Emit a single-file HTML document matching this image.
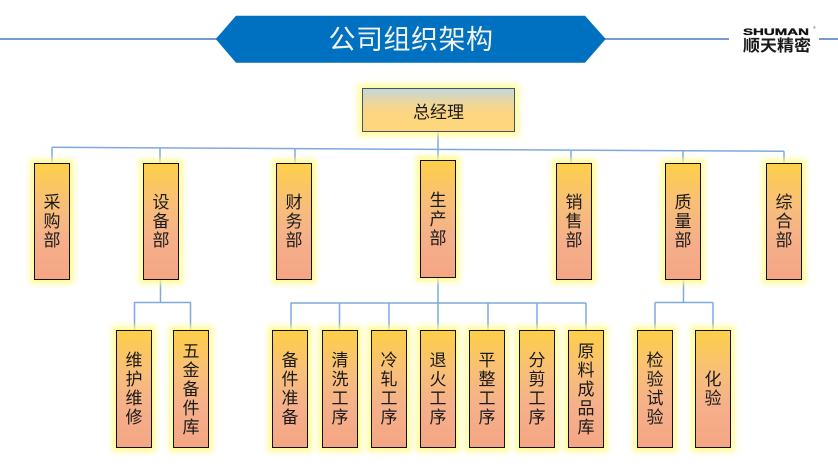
<!DOCTYPE html>
<html>
<head>
<meta charset="utf-8">
<style>
  html,body{margin:0;padding:0;}
  body{width:838px;height:472px;position:relative;overflow:hidden;background:#fff;
    font-family:"Liberation Sans","Noto Sans CJK SC",sans-serif;}
  svg.bg{position:absolute;left:0;top:0;}
  .b{position:absolute;width:36px;height:117px;box-sizing:border-box;border:1.5px solid #111;
    background:linear-gradient(to bottom,#fecf48 0%,#f8bf78 35%,#f5b08a 65%,#f5a684 100%);
    box-shadow:0 0 5px 4px rgba(255,250,140,0.85);
    display:flex;flex-direction:column;align-items:center;justify-content:center;
    font-family:"Liberation Sans","Noto Sans CJK SC",sans-serif;font-size:17px;line-height:19px;color:#1a1a1a;}
  .b span{display:block;}
  .lo{top:330px;height:118px;}
  .gm{position:absolute;left:362px;top:88px;width:153px;height:44px;box-sizing:border-box;
    border:1.5px solid #44546a;
    background:linear-gradient(to bottom,#c4d7da 0%,#e8d6a0 30%,#fbd583 55%,#ffd679 100%);
    box-shadow:0 0 6px 4px rgba(255,250,140,0.85);
    display:flex;align-items:center;justify-content:center;font-size:17px;color:#1a1a1a;
    font-family:"Liberation Sans","Noto Sans CJK SC",sans-serif;}
</style>
</head>
<body>
<svg class="bg" width="838" height="472" viewBox="0 0 838 472">
  <!-- header lines -->
  <line x1="0" y1="39" x2="217" y2="39" stroke="#4a78c4" stroke-width="1.5"/>
  <line x1="604" y1="39" x2="729" y2="39" stroke="#4a78c4" stroke-width="1.5"/>
  <line x1="819" y1="39" x2="838" y2="39" stroke="#4a78c4" stroke-width="1.5"/>
  <polygon points="215.7,39 236,15.7 585,15.7 605.7,39 585,62.7 236,62.7" fill="#0070c0"/>
  <text x="411" y="40" text-anchor="middle" dominant-baseline="central" fill="#f2f2f2"
    font-family="Liberation Sans, Noto Sans CJK SC, sans-serif" font-size="27" letter-spacing="0.5">公司组织架构</text>
  <!-- logo -->
  <text x="743" y="35" font-family="Liberation Sans, sans-serif" font-weight="bold" font-size="9.5"
    textLength="66" lengthAdjust="spacingAndGlyphs" fill="#111" stroke="#111" stroke-width="0.3">SHUMAN</text>
  <text x="813" y="29" font-family="Liberation Sans, sans-serif" font-size="4" fill="#666">®</text>
  <text x="743" y="51" font-family="Liberation Sans, Noto Sans CJK SC, sans-serif" font-weight="bold" font-size="16"
    textLength="68" lengthAdjust="spacingAndGlyphs" fill="#1a1a1a">顺天精密</text>

  <g stroke="#7eaadc" stroke-width="1.5" fill="none">
    <!-- main -->
    <line x1="438" y1="131" x2="438" y2="160"/>
    <line x1="52" y1="147.3" x2="784" y2="151.3"/>
    <line x1="52" y1="147.3" x2="52" y2="163"/>
    <line x1="160" y1="148" x2="160" y2="163"/>
    <line x1="295" y1="148.6" x2="295" y2="163"/>
    <line x1="571" y1="150" x2="571" y2="163"/>
    <line x1="683" y1="150.6" x2="683" y2="163"/>
    <line x1="784" y1="151.2" x2="784" y2="163"/>
    <!-- 设备部 branch -->
    <line x1="160.5" y1="280" x2="160.5" y2="302.5"/>
    <line x1="134" y1="302.5" x2="191" y2="302.5"/>
    <line x1="134.5" y1="302.5" x2="134.5" y2="330"/>
    <line x1="190.5" y1="302.5" x2="190.5" y2="330"/>
    <!-- 生产部 branch -->
    <line x1="438" y1="278" x2="438" y2="330"/>
    <line x1="290.5" y1="303" x2="586" y2="303"/>
    <line x1="291" y1="303" x2="291" y2="330"/>
    <line x1="339.5" y1="303" x2="339.5" y2="330"/>
    <line x1="389" y1="303" x2="389" y2="330"/>
    <line x1="488" y1="303" x2="488" y2="330"/>
    <line x1="537" y1="303" x2="537" y2="330"/>
    <line x1="586" y1="303" x2="586" y2="330"/>
    <!-- 质量部 branch -->
    <line x1="683.5" y1="280" x2="683.5" y2="302.5"/>
    <line x1="655" y1="302.5" x2="713" y2="302.5"/>
    <line x1="655" y1="302.5" x2="655" y2="330"/>
    <line x1="713" y1="302.5" x2="713" y2="330"/>
  </g>
</svg>

<div class="gm">总经理</div>

<div class="b" style="left:34px;top:163px;"><span>采</span><span>购</span><span>部</span></div>
<div class="b" style="left:143px;top:163px;"><span>设</span><span>备</span><span>部</span></div>
<div class="b" style="left:276px;top:163px;"><span>财</span><span>务</span><span>部</span></div>
<div class="b" style="left:420px;top:160px;height:118px;"><span>生</span><span>产</span><span>部</span></div>
<div class="b" style="left:556px;top:163px;"><span>销</span><span>售</span><span>部</span></div>
<div class="b" style="left:665px;top:163px;"><span>质</span><span>量</span><span>部</span></div>
<div class="b" style="left:766px;top:163px;"><span>综</span><span>合</span><span>部</span></div>

<div class="b lo" style="left:116px;"><span>维</span><span>护</span><span>维</span><span>修</span></div>
<div class="b lo" style="left:173px;"><span>五</span><span>金</span><span>备</span><span>件</span><span>库</span></div>
<div class="b lo" style="left:272px;"><span>备</span><span>件</span><span>准</span><span>备</span></div>
<div class="b lo" style="left:322px;"><span>清</span><span>洗</span><span>工</span><span>序</span></div>
<div class="b lo" style="left:371px;"><span>冷</span><span>轧</span><span>工</span><span>序</span></div>
<div class="b lo" style="left:420px;"><span>退</span><span>火</span><span>工</span><span>序</span></div>
<div class="b lo" style="left:469px;"><span>平</span><span>整</span><span>工</span><span>序</span></div>
<div class="b lo" style="left:519px;"><span>分</span><span>剪</span><span>工</span><span>序</span></div>
<div class="b lo" style="left:568px;"><span>原</span><span>料</span><span>成</span><span>品</span><span>库</span></div>
<div class="b lo" style="left:637px;"><span>检</span><span>验</span><span>试</span><span>验</span></div>
<div class="b lo" style="left:695px;"><span>化</span><span>验</span></div>
</body>
</html>
